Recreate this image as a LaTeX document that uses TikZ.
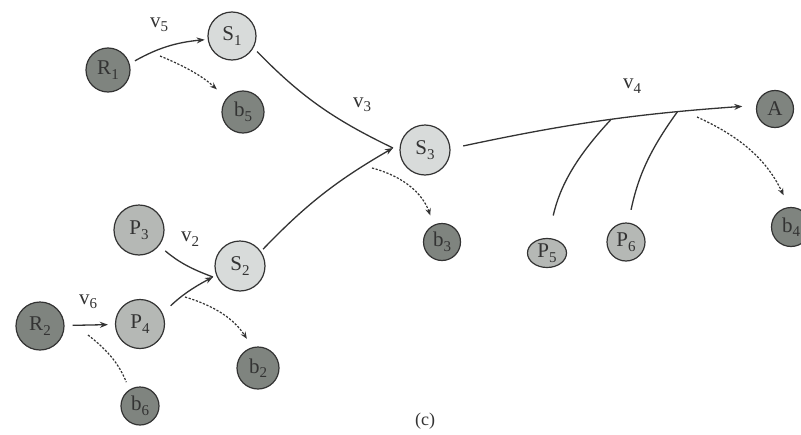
\documentclass[tikz,border=0pt]{standalone}
\usepackage{fontspec}
\setmainfont{Liberation Serif}
\usetikzlibrary{arrows.meta,shapes.geometric}
\definecolor{darkfill}{HTML}{7F847F}
\definecolor{midfill}{HTML}{B5B8B5}
\definecolor{lightfill}{HTML}{D8DBDA}
\definecolor{inkc}{HTML}{333333}
\newcommand{\sbx}[1]{\raisebox{-4.5pt}{\fontsize{15}{15}\selectfont #1}}
\begin{document}
\begin{tikzpicture}[x=1pt,y=1pt,
  base/.style={circle,draw=inkc,line width=1.2pt,inner sep=0pt,text=inkc,font=\fontsize{21}{24}\selectfont},
  darknode/.style={base,fill=darkfill},
  midnode/.style={base,fill=midfill},
  lightnode/.style={base,fill=lightfill},
  sz/.style={minimum size=#1},
  lbl/.style={text=inkc,font=\fontsize{21}{24}\selectfont,inner sep=0pt},
  arr/.style={draw=inkc,line width=1.3pt,-{Stealth[length=8pt,width=6pt]}},
  plain/.style={draw=inkc,line width=1.3pt},
  dsh/.style={draw=inkc,line width=1.2pt,dash pattern=on 2.2pt off 1.6pt},
  darr/.style={dsh,-{Stealth[length=7pt,width=5.5pt]}}
]
\useasboundingbox (0,0) rectangle (801,-434);
\fill[white] (0,0) rectangle (801,-434);

% nodes
\node[darknode,sz=44pt] (R1) at (108,-70) {R\sbx{1}};
\node[lightnode,sz=48pt] (S1) at (232,-36) {S\sbx{1}};
\node[darknode,sz=42pt] (b5) at (243,-112) {b\sbx{5}};
\node[lightnode,sz=50pt] (S3) at (425,-150) {S\sbx{3}};
\node[midnode,sz=50pt] (P3) at (139,-230) {P\sbx{3}};
\node[lightnode,sz=50pt] (S2) at (240,-266) {S\sbx{2}};
\node[darknode,sz=37pt] (b3) at (442,-242) {b\sbx{3}};
\node[midnode,ellipse,minimum width=39pt,minimum height=29pt] (P5) at (547,-253) {P\sbx{5}};
\node[midnode,sz=38pt] (P6) at (626,-242) {P\sbx{6}};
\node[darknode,sz=37pt] (A) at (775,-109) {A};
\node[darknode,sz=39pt] (b4) at (791,-227) {b\sbx{4}};
\node[darknode,sz=48pt] (R2) at (40,-326) {R\sbx{2}};
\node[midnode,sz=49pt] (P4) at (140,-324) {P\sbx{4}};
\node[darknode,sz=42pt] (b2) at (258,-368) {b\sbx{2}};
\node[darknode,sz=38pt] (b6) at (140,-406) {b\sbx{6}};

% labels
\node[lbl] (v5) at (159,-25) {v\sbx{5}};
\node[lbl] (v3) at (362,-105) {v\sbx{3}};
\node[lbl] (v2) at (190,-239) {v\sbx{2}};
\node[lbl] (v6) at (88,-302) {v\sbx{6}};
\node[lbl] (v4) at (632,-86) {v\sbx{4}};
\node[lbl,font=\fontsize{18}{22}\selectfont] (cap) at (425,-421) {(c)};

% junction / start coordinates
\coordinate (j3) at (393,-148);
\coordinate (j2) at (213,-277);
\coordinate (d5) at (160,-56);
\coordinate (d3) at (372,-168);
\coordinate (d4) at (697,-117);
\coordinate (d2) at (185,-297);
\coordinate (d6) at (88,-335);

% edges
\draw[arr,shorten <=6pt,shorten >=3pt] (R1.16) to[bend left=12] (S1.188);
\draw[darr,shorten >=13pt] (d5) to[bend left=10] (b5.140);
\draw[plain,shorten <=5pt] (S1.-29) to[bend right=10] (j3);
\draw[arr,shorten <=3pt] (S2.35) to[bend left=8] (j3);
\draw[darr,shorten >=10pt] (d3) to[bend left=28] (b3.116);
\draw[arr,shorten <=13pt,shorten >=14pt] (S3.3) to[bend left=4]
   coordinate[pos=0.53] (j5) coordinate[pos=0.76] (j6) (A.169);
\draw[plain,shorten <=23pt] (P5.86) to[bend left=15] (j5);
\draw[plain,shorten <=13pt] (P6.83) to[bend left=12] (j6);
\draw[darr,shorten >=13pt] (d4) to[bend left=20] (b4.95);
\draw[plain,shorten <=8pt] (P3.-38) to[bend right=10] (j2);
\draw[arr,shorten <=11pt] (P4.25) to[bend left=8] (j2);
\draw[darr,shorten >=10pt] (d2) to[bend left=20] (b2.105);
\draw[arr,shorten <=8pt,shorten >=7pt] (R2) -- (P4);
\draw[dsh,shorten >=8pt] (d6) to[bend left=15] (b6.123);
\end{tikzpicture}
\end{document}
